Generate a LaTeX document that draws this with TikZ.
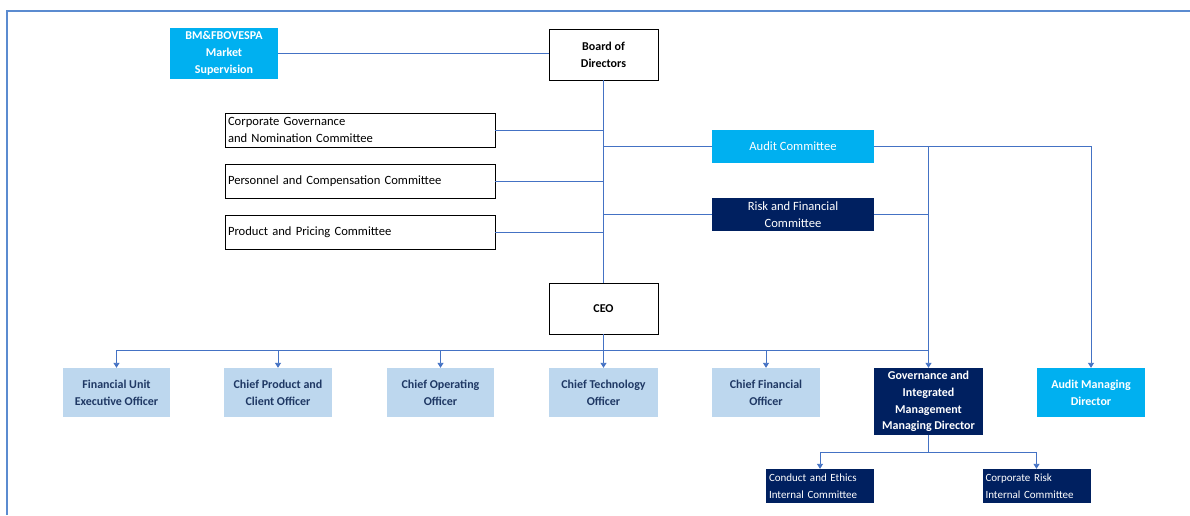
\documentclass[tikz,border=0pt]{standalone}
\usepackage{fontspec}
\setmainfont{Carlito}
\usetikzlibrary{arrows.meta}
\definecolor{lnblue}{HTML}{4472C4}
\definecolor{framecol}{HTML}{5B8BD0}
\definecolor{cyanbox}{HTML}{00B0F0}
\definecolor{navybox}{HTML}{002060}
\definecolor{lightbox}{HTML}{BDD7EE}
\definecolor{lighttext}{HTML}{1F3864}
\begin{document}
\begin{tikzpicture}[x=1pt,y=-1pt,
  base/.style={inner sep=0pt, align=center, font=\fontsize{12}{16.8}\selectfont\bfseries},
  wbox/.style={base, draw=black, fill=white, line width=0.8pt},
  cbox/.style={base, fill=cyanbox, text=white},
  nbox/.style={base, fill=navybox, text=white},
  lbox/.style={base, fill=lightbox, text=lighttext},
  combox/.style={draw=black, line width=0.8pt, inner xsep=3pt, inner ysep=0pt, text width=264pt, minimum height=34pt, align=left, font=\fontsize{12.6}{17}\selectfont},
  smallbox/.style={fill=navybox, text=white, inner xsep=3pt, inner ysep=0pt, text width=102pt, minimum height=34pt, align=left, font=\fontsize{11}{17}\selectfont},
  conn/.style={lnblue, line width=0.9pt},
  arr/.style={conn, -{Triangle[length=5pt,width=6pt]}}
]
\useasboundingbox (0,0) rectangle (1190,515);
\fill[white] (0,0) rectangle (1190,515);
\draw[framecol, line width=2pt] (7,515) -- (7,11) -- (1190,11);

% nodes
\node[cbox, minimum width=108pt, minimum height=51pt] (bm) at (224,53.5) {BM\&FBOVESPA\\Market\\Supervision};
\node[wbox, minimum width=109pt, minimum height=51pt] (bod) at (603.5,54.5) {Board of\\Directors};
\node[combox] (cg) at (360,130) {Corporate Governance\\and Nomination Committee};
\node[combox] (pc) at (360,181) {Personnel and Compensation Committee};
\node[combox] (pp) at (360,232) {Product and Pricing Committee};
\node[cbox, minimum width=162pt, minimum height=33pt, font=\fontsize{12.6}{17}\selectfont] (ac) at (793,146.5) {Audit Committee};
\node[nbox, minimum width=162pt, minimum height=33pt, font=\fontsize{12.6}{17}\selectfont] (rf) at (793,214.5) {Risk and Financial\\Committee};
\node[wbox, minimum width=109pt, minimum height=51pt] (ceo) at (603.5,308.5) {CEO};

\node[lbox, minimum width=107pt, minimum height=49pt] (fu) at (116.5,392.5) {Financial Unit\\Executive Officer};
\node[lbox, minimum width=108pt, minimum height=49pt] (cp) at (278,392.5) {Chief Product and\\Client Officer};
\node[lbox, minimum width=107pt, minimum height=49pt] (co) at (440.5,392.5) {Chief Operating\\Officer};
\node[lbox, minimum width=109pt, minimum height=49pt] (ct) at (603.5,392.5) {Chief Technology\\Officer};
\node[lbox, minimum width=108pt, minimum height=49pt] (cf) at (766,392.5) {Chief Financial\\Officer};
\node[nbox, minimum width=109pt, minimum height=67pt] (gm) at (928.5,401.5) {Governance and\\Integrated\\Management\\Managing Director};
\node[cbox, minimum width=108pt, minimum height=49pt] (am) at (1091,392.5) {Audit Managing\\Director};
\node[smallbox] (ce) at (820,486) {Conduct and Ethics\\Internal Committee};
\node[smallbox] (cr) at (1036.5,486) {Corporate Risk\\Internal Committee};

% connectors
\draw[conn] (bm.east) -- (bm.east -| bod.west);
\draw[conn] (bod.south) -- (ceo.north);
\draw[conn] (cg.east) -- (cg.east -| bod.south);
\draw[conn] (pc.east) -- (pc.east -| bod.south);
\draw[conn] (pp.east) -- (pp.east -| bod.south);
\draw[conn] (ac.west -| bod.south) -- (ac.west);
\draw[conn] (rf.west -| bod.south) -- (rf.west);
\draw[arr] (ac.east) -| (am.north);
\draw[arr] (ac.east -| gm.north) -- (gm.north);
\draw[conn] (rf.east) -- (rf.east -| gm.north);

\coordinate (bus) at (0,350);
\draw[conn] (fu.north |- bus) -- (gm.north |- bus);
\draw[arr] (fu.north |- bus) -- (fu.north);
\draw[arr] (cp.north |- bus) -- (cp.north);
\draw[arr] (co.north |- bus) -- (co.north);
\draw[arr] (ceo.south) -- (ct.north);
\draw[arr] (cf.north |- bus) -- (cf.north);

\coordinate (bus2) at (0,452);
\draw[conn] (gm.south) -- (gm.south |- bus2);
\draw[conn] (ce.north |- bus2) -- (cr.north |- bus2);
\draw[arr] (ce.north |- bus2) -- (ce.north);
\draw[arr] (cr.north |- bus2) -- (cr.north);
\end{tikzpicture}
\end{document}
